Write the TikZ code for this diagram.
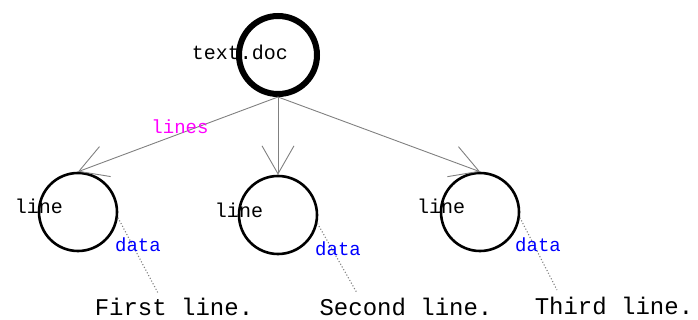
\documentclass[tikz,border=0pt]{standalone}
\usepackage{fontspec}
\setmonofont{Liberation Mono}
\usetikzlibrary{arrows.meta}
\definecolor{edgemagenta}{RGB}{255,0,255}
\definecolor{datablue}{RGB}{0,0,255}
\tikzset{
  treenode/.style={circle, draw=black, line width=2.6pt, minimum size=78pt, inner sep=0pt},
  rootnode/.style={circle, draw=black, line width=6pt, minimum size=78pt, inner sep=0pt},
  namelabel/.style={font=\ttfamily\fontsize{20}{20}\selectfont, text=black, inner sep=0pt},
  edgelabel/.style={font=\ttfamily\fontsize{19}{19}\selectfont, text=edgemagenta, inner sep=0pt},
  datalabel/.style={font=\ttfamily\fontsize{19}{19}\selectfont, text=datablue, inner sep=0pt},
  linetext/.style={font=\ttfamily\fontsize{24}{24}\selectfont, text=black, inner sep=0pt, anchor=base},
  treeedge/.style={draw=gray, line width=0.9pt, -{Straight Barb[length=28pt, width=32pt, line width=0.9pt]}},
  dataedge/.style={draw=gray, line width=1.1pt, dotted}
}
\begin{document}
\begin{tikzpicture}[x=1pt, y=-1pt]
\useasboundingbox (0,0) rectangle (698,320);

% document root
\node[rootnode] (root) at (278,55) {};
\node[namelabel] (rootname) at (240,52) {text.doc};

% one node per line
\node[treenode] (c1) at (78,212) {};
\node[treenode] (c2) at (278,215) {};
\node[treenode] (c3) at (480,212) {};
\node[namelabel] (n1) at (39,206) {line};
\node[namelabel] (n2) at (239,210) {line};
\node[namelabel] (n3) at (441,206) {line};

% children edges
\draw[treeedge] (root.south) -- (c1.north);
\draw[treeedge] (root.south) -- (c2.north);
\draw[treeedge] (root.south) -- (c3.north);
\node[edgelabel] (lbl) at (180,127) {lines};

% line contents
\node[linetext] (t1) at (174,315) {First line.};
\node[linetext] (t2) at (406,315) {Second line.};
\node[linetext] (t3) at (614,314) {Third line.};

\draw[dataedge] (c1.-8) -- ([xshift=-16pt,yshift=22pt]t1.base);
\draw[dataedge] (c2.-12) -- ([xshift=-49pt,yshift=22pt]t2.base);
\draw[dataedge] (c3.-8) -- ([xshift=-57pt,yshift=24pt]t3.base);

\node[datalabel] (d1) at (138,245) {data};
\node[datalabel] (d2) at (338,249) {data};
\node[datalabel] (d3) at (538,245) {data};
\end{tikzpicture}
\end{document}
